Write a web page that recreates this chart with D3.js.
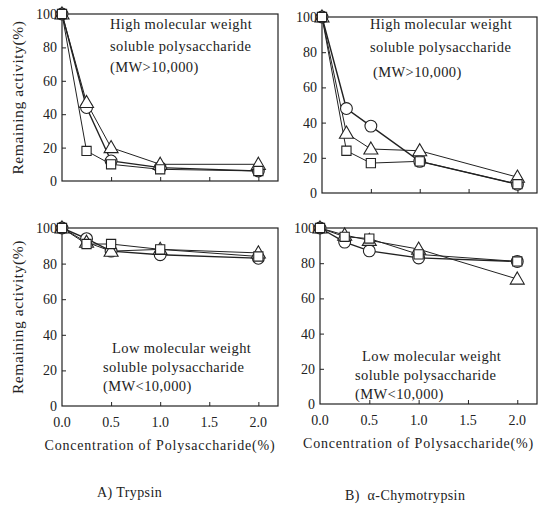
<!DOCTYPE html>
<html>
<head>
<meta charset="utf-8">
<script src="https://cdn.jsdelivr.net/npm/d3@7"></script>
<style>
	body { margin: 0; background: #fff; }
	svg { display: block; font-family: "Liberation Serif", "DejaVu Serif", serif; }
	.tick-label { font-size: 14px; fill: #222; }
	.note { font-size: 14.5px; fill: #222; letter-spacing: 0.4px; }
</style>
</head>
<body>
<svg id="chart" width="547" height="506"></svg>
<script>
// concentration of polysaccharide (%)
const conc = [0, 0.25, 0.5, 1.0, 2.0]
const xTicks = [0, 0.5, 1.0, 1.5, 2.0]
const yTicks = [0, 20, 40, 60, 80, 100]

// A) Trypsin, high MW
const trypHighCircle = [100, 44, 12, 8, 6]
const trypHighTriangle = [100, 47, 20, 10, 10]
const trypHighSquare = [100, 18, 10, 7, 6]
// B) Chymotrypsin, high MW
const chymHighCircle = [100, 48, 38, 18, 5]
const chymHighTriangle = [100, 34, 25, 24, 9]
const chymHighSquare = [100, 24, 17, 18, 5]
// A) Trypsin, low MW
const trypLowCircle = [100, 94, 87, 85, 83]
const trypLowTriangle = [100, 92, 87, 88, 86]
const trypLowSquare = [100, 91, 91, 88, 84]
// B) Chymotrypsin, low MW
const chymLowCircle = [100, 92, 87, 83, 81]
const chymLowTriangle = [100, 96, 93, 88, 71]
const chymLowSquare = [100, 95, 94, 85, 81]

const highNote = ['High molecular weight', 'soluble polysaccharide', '(MW>10,000)']
const lowNote = ['Low molecular weight', 'soluble polysaccharide', '(MW<10,000)']
const yTitle = 'Remaining activity(%)'
const xTitle = 'Concentration of Polysaccharide(%)'
const captions = ['A) Trypsin', 'B)  α-Chymotrypsin']

const ink = '#222'
const svg = d3.select('#chart')

const panels = [
	{ box: [62, 278, 14, 181], series: [trypHighCircle, trypHighTriangle, trypHighSquare], note: highNote,
		noteAt: [[110, 29], [110, 51], [110, 72]], xLabels: false, yTitle: true },
	{ box: [322, 537, 17, 193], series: [chymHighCircle, chymHighTriangle, chymHighSquare], note: highNote,
		noteAt: [[370, 29], [370, 52], [373, 77]], xLabels: false, yTitle: false },
	{ box: [62, 278, 228, 406], series: [trypLowCircle, trypLowTriangle, trypLowSquare], note: lowNote,
		noteAt: [[112, 353], [103, 372], [103, 391]], xLabels: true, yTitle: true },
	{ box: [320, 537, 228, 404], series: [chymLowCircle, chymLowTriangle, chymLowSquare], note: lowNote,
		noteAt: [[362, 361], [355, 380], [355, 399]], xLabels: true, yTitle: false }
]

const shapes = [d3.symbolCircle, d3.symbolTriangle, d3.symbolSquare]
const shapeSize = [110, 85, 85]

panels.forEach((p) => {
	const [l, r, t, b] = p.box
	const x = d3.scaleLinear().domain([0, 2.2]).range([l, r])
	const y = d3.scaleLinear().domain([0, 100]).range([b, t])
	const g = svg.append('g')

	// frame
	g.append('rect')
		.attr('x', l).attr('y', t)
		.attr('width', r - l).attr('height', b - t)
		.style('fill', 'none').style('stroke', ink).style('stroke-width', 1.2)

	// inward ticks
	g.append('g')
		.attr('transform', 'translate(0,' + b + ')')
		.call(d3.axisBottom(x).tickValues(xTicks.slice(1)).tickSizeInner(-4).tickSizeOuter(0).tickFormat(''))
		.call((a) => a.select('.domain').remove())
		.selectAll('line').style('stroke', ink)
	g.append('g')
		.attr('transform', 'translate(' + l + ',0)')
		.call(d3.axisLeft(y).tickValues(yTicks.slice(1, -1)).tickSizeInner(-4).tickSizeOuter(0).tickFormat(''))
		.call((a) => a.select('.domain').remove())
		.selectAll('line').style('stroke', ink)

	// y labels
	g.selectAll('.ylab').data(yTicks).enter().append('text')
		.attr('class', 'tick-label')
		.attr('x', l - 5).attr('y', (d) => y(d) + 5)
		.attr('text-anchor', 'end')
		.text((d) => d)

	if (p.xLabels) {
		g.selectAll('.xlab').data(xTicks).enter().append('text')
			.attr('class', 'tick-label')
			.attr('x', (d) => x(d)).attr('y', b + 21)
			.attr('text-anchor', 'middle')
			.text((d) => d.toFixed(1))
		g.append('text')
			.attr('x', (l + r) / 2 - 10).attr('y', b + 44)
			.attr('text-anchor', 'middle')
			.style('font-size', '14px').style('letter-spacing', '0.8px').style('fill', ink)
			.text(xTitle)
	}

	if (p.yTitle) {
		g.append('text')
			.attr('transform', 'translate(23,' + ((t + b) / 2) + ') rotate(-90)')
			.attr('text-anchor', 'middle')
			.style('font-size', '15.5px').style('letter-spacing', '0.6px').style('fill', ink)
			.text(yTitle)
	}

	// series
	const line = d3.line().x((d, i) => x(conc[i])).y((d) => y(d))
	p.series.forEach((s, k) => {
		g.append('path')
			.attr('d', line(s))
			.style('fill', 'none')
			.style('stroke', ink)
			.style('stroke-width', k === 0 ? 1.4 : 1)
	})
	p.series.forEach((s, k) => {
		g.selectAll('.pt' + k).data(s).enter().append('path')
			.attr('transform', (d, i) => 'translate(' + x(conc[i]) + ',' + (y(d) + (k === 1 ? 1 : 0)) + ')')
			.attr('d', d3.symbol().type(shapes[k]).size(shapeSize[k]))
			.style('fill', 'white')
			.style('stroke', ink)
			.style('stroke-width', 1.1)
	})

	// note text
	p.note.forEach((txt, i) => {
		g.append('text')
			.attr('class', 'note')
			.attr('x', p.noteAt[i][0]).attr('y', p.noteAt[i][1])
			.text(txt)
	})
})

svg.selectAll('.caption').data(captions).enter().append('text')
	.attr('x', (d, i) => i === 0 ? 97 : 345)
	.attr('y', (d, i) => i === 0 ? 497 : 500)
	.style('font-size', '14px').style('letter-spacing', '0.4px').style('white-space', 'pre').style('fill', ink)
	.text((d) => d)
</script>
</body>
</html>
